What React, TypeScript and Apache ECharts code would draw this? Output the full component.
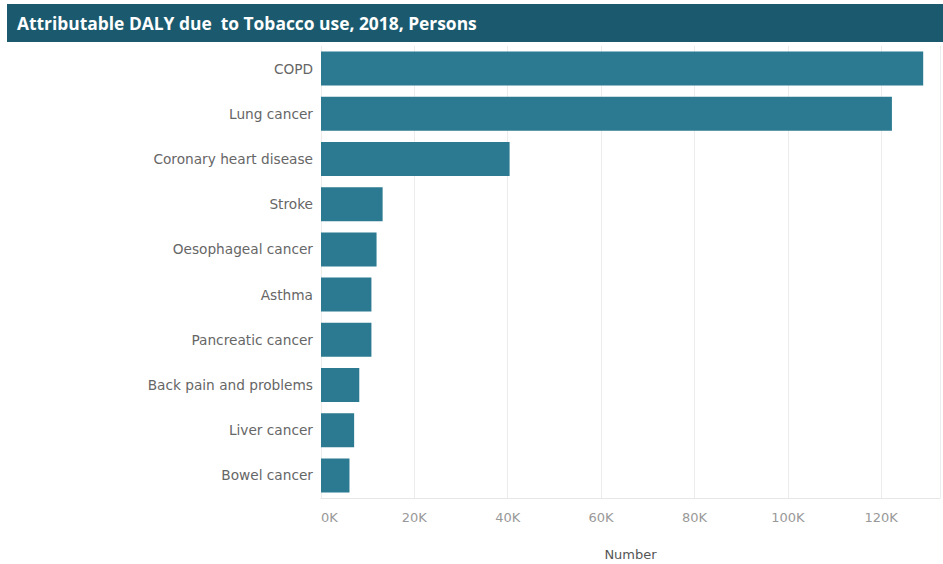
import React, { useEffect, useRef } from "react";
import * as echarts from "echarts";

const categories = [
  "COPD",
  "Lung cancer",
  "Coronary heart disease",
  "Stroke",
  "Oesophageal cancer",
  "Asthma",
  "Pancreatic cancer",
  "Back pain and problems",
  "Liver cancer",
  "Bowel cancer",
];
const values = [129000, 122300, 40400, 13200, 11900, 10800, 10800, 8200, 7100, 6100];
const titleText = "Attributable DALY due  to Tobacco use, 2018, Persons";
const axisName = "Number";

export default function App() {
  const ref = useRef<HTMLDivElement>(null);
  useEffect(() => {
    document.body.style.margin = "0";
    const chart = echarts.init(ref.current!, null, { renderer: "svg" });
    chart.setOption({
      animation: false,
      graphic: [
        {
          type: "rect",
          shape: { x: 7, y: 4, width: 936, height: 38 },
          style: { fill: "#1b5a6e" },
        },
        {
          type: "text",
          x: 17,
          y: 23,
          style: {
            text: titleText,
            fill: "#ffffff",
            font: "bold 17.4px 'Open Sans', sans-serif",
            textVerticalAlign: "middle",
          },
        },
      ],
      grid: {
        left: 321,
        right: 3,
        top: 46,
        height: 452,
        containLabel: false,
        outerBoundsMode: "none",
      },
      xAxis: {
        type: "value",
        min: 0,
        max: 132600,
        interval: 20000,
        name: axisName,
        nameLocation: "middle",
        nameGap: 50,
        nameTextStyle: { color: "#555", fontSize: 13, fontFamily: "'DejaVu Sans', sans-serif" },
        axisLine: { show: true, lineStyle: { color: "#e6e6e6" } },
        axisTick: { show: false },
        axisLabel: {
          showMaxLabel: false,
          alignMinLabel: "left",
          color: "#999",
          fontSize: 13,
          fontFamily: "'DejaVu Sans', sans-serif",
          margin: 13,
          formatter: (v: number) => (v % 20000 === 0 ? v / 1000 + "K" : ""),
        },
        splitLine: { show: true, lineStyle: { color: "#ececec" } },
      },
      yAxis: {
        type: "category",
        data: categories,
        inverse: true,
        axisLine: { show: false },
        axisTick: { show: false },
        axisLabel: {
          color: "#666",
          fontSize: 13.7,
          fontFamily: "'DejaVu Sans', sans-serif",
          margin: 8,
        },
      },
      series: [
        {
          type: "bar",
          data: values,
          barWidth: 34,
          itemStyle: { color: "#2b7a91" },
        },
      ],
    });
    return () => chart.dispose();
  }, []);
  return <div ref={ref} style={{ width: 943, height: 564 }} />;
}
